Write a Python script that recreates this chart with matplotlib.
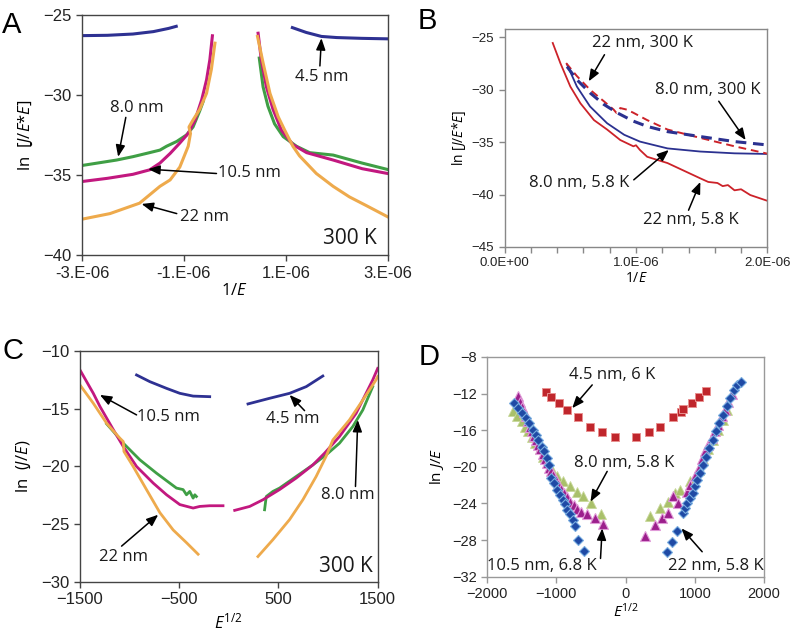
import numpy as np
import matplotlib
matplotlib.use("Agg")
import matplotlib.pyplot as plt

plt.rcParams["font.family"] = ["Open Sans", "DejaVu Sans"]
plt.rcParams["mathtext.fontset"] = "custom"
plt.rcParams["mathtext.rm"] = "Open Sans"
plt.rcParams["mathtext.it"] = "Open Sans:italic"

# ---------------- panel A : ln[J/E*E] vs 1/E (x in 1e-6) ----------------
a_navy_l_x = [-3.0, -2.5, -2.0, -1.6, -1.3, -1.15]
a_navy_l_y = [-26.3, -26.28, -26.2, -26.05, -25.85, -25.72]
a_navy_r_x = [1.13, 1.4, 1.7, 2.0, 2.5, 3.0]
a_navy_r_y = [-25.8, -26.1, -26.35, -26.42, -26.47, -26.5]

a_mag_l_x = [-3.0, -2.5, -2.0, -1.67, -1.47, -1.27, -1.08, -0.915, -0.78, -0.65, -0.555, -0.49, -0.44]
a_mag_l_y = [-35.4, -35.2, -34.95, -34.67, -34.25, -33.65, -33.0, -32.4, -31.56, -30.3, -29.06, -27.8, -26.31]
a_mag_r_x = [0.457, 0.52, 0.62, 0.75, 0.915, 1.14, 1.41, 1.93, 2.5, 3.0]
a_mag_r_y = [-26.15, -27.8, -29.5, -30.9, -32.2, -33.1, -33.6, -34.06, -34.6, -34.9]

a_grn_l_x = [-3.0, -2.6, -2.32, -2.0, -1.7, -1.47, -1.34, -1.14, -0.95, -0.82, -0.69, -0.62]
a_grn_l_y = [-34.4, -34.2, -34.06, -33.85, -33.62, -33.44, -33.2, -32.9, -32.5, -32.0, -31.0, -30.4]
a_grn_r_x = [0.48, 0.555, 0.65, 0.78, 0.95, 1.21, 1.47, 1.93, 2.5, 3.0]
a_grn_r_y = [-27.7, -29.5, -30.7, -31.8, -32.6, -33.2, -33.6, -33.75, -34.25, -34.65]

a_org_l_x = [-3.0, -2.45, -1.87, -1.47, -1.27, -1.08, -0.915, -0.87, -0.90, -0.82, -0.69, -0.555, -0.46, -0.39]
a_org_l_y = [-37.75, -37.4, -36.75, -35.7, -35.3, -34.5, -33.2, -32.4, -32.0, -31.56, -30.9, -29.9, -28.4, -26.77]
a_org_r_x = [0.445, 0.555, 0.69, 0.85, 0.98, 1.14, 1.27, 1.6, 1.93, 2.25, 2.58, 3.0]
a_org_r_y = [-26.35, -28.0, -29.9, -31.35, -32.2, -33.2, -33.8, -34.9, -35.7, -36.36, -36.9, -37.6]

# ---------------- panel B : ln[J/E*E] vs 1/E (x in 1e-6) ----------------
b_red_s_x = [0.366, 0.424, 0.50, 0.577, 0.68, 0.78, 0.88, 0.98, 1.0, 1.03, 1.085, 1.24, 1.49,
             1.55, 1.62, 1.66, 1.70, 1.75, 1.80, 1.87, 2.0]
b_red_s_y = [-25.54, -27.46, -29.7, -31.3, -32.9, -33.8, -34.8, -35.4, -35.3, -35.75, -36.4, -37.0, -38.46,
             -38.8, -38.9, -39.2, -39.1, -39.6, -39.5, -40.05, -40.6]
b_blu_s_x = [0.475, 0.55, 0.65, 0.78, 0.91, 1.03, 1.11, 1.24, 1.49, 1.75, 2.0]
b_blu_s_y = [-27.6, -29.7, -31.6, -33.2, -34.3, -34.95, -35.2, -35.6, -35.9, -36.07, -36.13]
b_red_d_x = [0.468, 0.55, 0.65, 0.755, 0.83, 0.85, 0.88, 0.93, 0.98, 1.085, 1.24, 1.49, 1.75, 2.0]
b_red_d_y = [-27.46, -28.7, -30.0, -31.1, -31.9, -32.2, -31.75, -31.9, -32.2, -32.9, -33.8, -34.6, -35.4, -36.1]
b_blu_d_x = [0.475, 0.55, 0.65, 0.755, 0.856, 0.98, 1.085, 1.24, 1.49, 1.75, 2.0]
b_blu_d_y = [-27.8, -29.05, -30.3, -31.4, -32.2, -33.0, -33.5, -34.0, -34.47, -34.95, -35.27]

# ---------------- panel C : ln(J/E) vs E^1/2 ----------------
c_navy_l_x = [-930, -796, -628, -494, -360, -193]
c_navy_l_y = [-12.07, -12.65, -13.23, -13.66, -13.9, -13.95]
c_navy_r_x = [193, 411, 612, 780, 947]
c_navy_r_y = [-14.58, -14.09, -13.66, -13.08, -12.16]

c_mag_l_x = [-1500, -1366, -1299, -1165, -1064, -930, -762, -628, -494, -360, -293, -193, -59]
c_mag_l_y = [-11.64, -13.66, -14.8, -16.8, -18.27, -20.0, -21.44, -22.45, -23.3, -23.6, -23.46, -23.4, -23.4]
c_mag_r_x = [59, 210, 344, 511, 679, 847, 964, 1115, 1282, 1450, 1500]
c_mag_r_y = [-23.8, -23.46, -22.88, -22.0, -21.0, -19.86, -18.85, -17.4, -15.4, -12.5, -11.5]

c_grn_l_x = [-1232, -1150, -1064, -897, -729, -595, -528, -461, -427, -394, -360, -343, -327]
c_grn_l_y = [-16.3, -17.1, -17.98, -19.42, -20.58, -21.44, -21.87, -22.0, -22.45, -22.16, -22.74, -22.45, -22.6]
c_grn_r_x = [360, 377, 444, 511, 679, 847, 981, 1115, 1249, 1350, 1450]
c_grn_r_y = [-23.75, -22.6, -22.16, -21.87, -20.86, -19.86, -18.99, -17.98, -16.54, -15.1, -13.08]

c_org_l_x = [-1500, -1366, -1232, -1098, -1064, -1057, -964, -830, -695, -561, -427, -310]
c_org_l_y = [-12.94, -14.52, -16.25, -17.55, -17.84, -18.7, -20.0, -22.0, -24.0, -25.5, -26.6, -27.6]
c_org_r_x = [293, 444, 612, 746, 880, 981, 1048, 1215, 1350, 1483, 1500]
c_org_r_y = [-27.8, -26.34, -24.6, -22.88, -20.86, -19.1, -17.7, -15.97, -14.24, -12.5, -12.2]

# ---------------- panel D : ln J/E vs E^1/2 (low T) ----------------
d_sq_x = [-1152, -1076, -960, -840, -690, -513, -335, -152,
          152, 339, 498, 681, 797, 835, 960, 1061, 1162]
d_sq_y = [-11.78, -12.36, -13.05, -13.8, -14.6, -15.6, -16.2, -16.7,
          -16.7, -16.15, -15.6, -14.6, -13.97, -13.7, -13.05, -12.4, -11.7]

d_mag_x = [-1560, -1530, -1500, -1470, -1440, -1410, -1380, -1350, -1320, -1290, -1260, -1230, -1200,
           -1170, -1140, -1110, -1080, -1050, -1010, -970, -930, -890, -840, -800, -750, -700, -650,
           -560, -440, -320,
           282, 426, 522, 618, 690, 762, 884, 931, 1004, 1052, 1100, 1148, 1196, 1244, 1292, 1340,
           1388, 1437, 1485, 1534]
d_mag_y = [-12.3, -12.9, -13.5, -14.0, -14.5, -15.0, -15.6, -16.1, -16.6, -17.1, -17.6, -18.1, -18.6,
           -19.1, -19.6, -20.1, -20.5, -20.9, -21.4, -21.9, -22.4, -22.9, -23.3, -23.8, -24.2, -24.6, -24.9,
           -25.2, -25.6, -26.2,
           -27.5, -26.4, -25.6, -25.0, -23.2, -24.0, -22.7, -22.0, -21.05, -20.1, -19.2, -18.3, -17.6,
           -16.9, -16.1, -15.4, -14.5, -13.8, -12.9, -12.0]

d_olv_x = [-1620, -1571, -1499, -1451, -1403, -1354, -1307, -1235, -1187, -1115, -1066, -994, -898,
           -801, -705, -609, -498, -358,
           354, 489, 609, 715, 787, 931, 1052, 1124, 1196, 1268, 1340, 1412, 1470]
d_olv_y = [-13.96, -14.5, -15.05, -15.6, -16.1, -16.7, -17.4, -18.1, -18.9, -19.6, -20.3, -21.0, -21.6,
           -22.1, -22.7, -23.2, -24.0, -25.2,
           -25.4, -24.5, -23.8, -22.9, -22.5, -21.6, -20.3, -19.2, -18.1, -17.05, -15.96, -14.9, -13.8]

d_dia_x = [-1610, -1548, -1499, -1437, -1389, -1340, -1292, -1259, -1210, -1172, -1138, -1100, -1076,
           -1032, -994, -946, -907, -874, -840, -801, -763, -729, -682, -599,
           604, 667, 739, 826, 859, 893, 931, 970, 1004, 1037, 1076, 1124, 1162, 1210, 1259, 1307,
           1355, 1403, 1461, 1509, 1567, 1615, 1664]
d_dia_y = [-13.05, -13.6, -14.14, -14.7, -15.2, -15.96, -16.5, -17.05, -17.8, -18.3, -19.05, -19.8, -21.2,
           -21.8, -22.5, -23.05, -23.6, -24.1, -24.7, -25.2, -25.8, -26.5, -28.0, -29.2,
           -29.3, -28.2, -27.0, -25.0, -24.5, -23.9, -23.4, -22.9, -22.1, -21.4, -20.7, -19.8, -18.9,
           -17.96, -17.05, -16.1, -15.2, -14.3, -13.4, -12.5, -11.6, -11.05, -10.7]

NAVY = "#2e3192"
MAGENTA = "#c2187f"
GREEN = "#3f9f45"
ORANGE = "#eeaa4c"
RED = "#cc2229"
BLUE = "#2b3190"

TICK_FONT = "Liberation Sans"


def style_axes(ax, spine_color, tick_size):
    for s in ax.spines.values():
        s.set_color(spine_color)
        s.set_linewidth(1.0)
    ax.tick_params(direction="out", length=4, width=1, color=spine_color,
                   labelsize=tick_size, labelcolor="#222222")
    for lab in ax.get_xticklabels() + ax.get_yticklabels():
        lab.set_family(TICK_FONT)


def arrow(ax, tail, tip):
    ax.annotate("", xy=tip, xytext=tail,
                arrowprops=dict(arrowstyle="-|>,head_length=0.7,head_width=0.28",
                                color="black", lw=1.1, shrinkA=0, shrinkB=0))


def label(ax, xy, text, size=12):
    ax.text(xy[0], xy[1], text, ha="center", va="center", fontsize=size, color="#1a1a1a")


fig = plt.figure(figsize=(7.96, 6.43), dpi=100)

# ---------- A ----------
ax = fig.add_axes([0.103, 0.603, 0.384, 0.374])
s = 1e-6
ax.plot(np.array(a_navy_l_x) * s, a_navy_l_y, color=NAVY, lw=2.2)
ax.plot(np.array(a_navy_r_x) * s, a_navy_r_y, color=NAVY, lw=2.2)
ax.plot(np.array(a_grn_l_x) * s, a_grn_l_y, color=GREEN, lw=2.2)
ax.plot(np.array(a_grn_r_x) * s, a_grn_r_y, color=GREEN, lw=2.2)
ax.plot(np.array(a_mag_l_x) * s, a_mag_l_y, color=MAGENTA, lw=2.2)
ax.plot(np.array(a_mag_r_x) * s, a_mag_r_y, color=MAGENTA, lw=2.2)
ax.plot(np.array(a_org_l_x) * s, a_org_l_y, color=ORANGE, lw=2.2)
ax.plot(np.array(a_org_r_x) * s, a_org_r_y, color=ORANGE, lw=2.2)
ax.set_xlim(-3e-6, 3e-6)
ax.set_ylim(-40, -25)
ax.set_xticks([-3e-6, -1e-6, 1e-6, 3e-6])
ax.set_xticklabels(["-3.E-06", "-1.E-06", "1.E-06", "3.E-06"])
ax.set_yticks([-40, -35, -30, -25])
style_axes(ax, "#444444", 12)
ax.set_xlabel("1/$\\mathit{E}$", fontsize=12, labelpad=2)
ax.set_ylabel("ln  [$\\mathit{J/E}$*$\\mathit{E}$]", fontsize=12, labelpad=6)
arrow(ax, (1.67e-6, -28.19), (1.70e-6, -26.46))
label(ax, (1.71e-6, -28.9), "4.5 nm")
arrow(ax, (-2.14e-6, -31.4), (-2.29e-6, -33.86))
label(ax, (-1.93e-6, -30.83), "8.0 nm")
arrow(ax, (-0.36e-6, -34.9), (-1.70e-6, -34.63))
label(ax, (0.29e-6, -34.86), "10.5 nm")
arrow(ax, (-1.14e-6, -37.4), (-1.83e-6, -36.8))
label(ax, (-0.59e-6, -37.6), "22 nm")
label(ax, (2.25e-6, -38.96), "300 K", size=15)

# ---------- B ----------
ax = fig.add_axes([0.634, 0.616, 0.330, 0.339])
ax.plot(np.array(b_red_s_x) * s, b_red_s_y, color=RED, lw=1.3)
ax.plot(np.array(b_blu_s_x) * s, b_blu_s_y, color=BLUE, lw=1.3)
ax.plot(np.array(b_red_d_x) * s, b_red_d_y, color=RED, lw=1.4, dashes=(4, 2.5))
ax.plot(np.array(b_blu_d_x) * s, b_blu_d_y, color=BLUE, lw=2.2, dashes=(3.5, 2.2))
ax.set_xlim(0, 2e-6)
ax.set_ylim(-45, -24.2)
ax.set_xticks([0, 1e-6, 2e-6])
ax.set_xticklabels(["0.0E+00", "1.0E-06", "2.0E-06"])
ax.set_xticks(np.arange(0, 2.01e-6, 0.2e-6), minor=True)
ax.set_yticks([-45, -40, -35, -30, -25])
style_axes(ax, "#888888", 9.5)
ax.tick_params(which="minor", direction="out", length=4, width=1, color="#888888")
ax.set_xlabel("1/$\\mathit{E}$", fontsize=10, labelpad=1)
ax.set_ylabel("ln [$\\mathit{J/E}$*$\\mathit{E}$]", fontsize=10, labelpad=3)
arrow(ax, (0.76e-6, -26.66), (0.64e-6, -29.2))
label(ax, (1.047e-6, -25.54), "22 nm, 300 K")
arrow(ax, (1.63e-6, -31.1), (1.835e-6, -34.8))
label(ax, (1.543e-6, -30.0), "8.0 nm, 300 K")
arrow(ax, (0.983e-6, -38.6), (1.25e-6, -35.75))
label(ax, (0.564e-6, -38.94), "8.0 nm, 5.8 K")
arrow(ax, (1.40e-6, -41.5), (1.49e-6, -38.8))
label(ax, (1.415e-6, -42.45), "22 nm, 5.8 K")

# ---------- C ----------
ax = fig.add_axes([0.1005, 0.095, 0.374, 0.359])
ax.plot(c_navy_l_x, c_navy_l_y, color=NAVY, lw=2.0)
ax.plot(c_navy_r_x, c_navy_r_y, color=NAVY, lw=2.0)
ax.plot(c_grn_l_x, c_grn_l_y, color=GREEN, lw=2.0)
ax.plot(c_grn_r_x, c_grn_r_y, color=GREEN, lw=2.0)
ax.plot(c_mag_l_x, c_mag_l_y, color=MAGENTA, lw=2.0)
ax.plot(c_mag_r_x, c_mag_r_y, color=MAGENTA, lw=2.0)
ax.plot(c_org_l_x, c_org_l_y, color=ORANGE, lw=2.0)
ax.plot(c_org_r_x, c_org_r_y, color=ORANGE, lw=2.0)
ax.set_xlim(-1500, 1500)
ax.set_ylim(-30, -10)
ax.set_xticks([-1500, -500, 500, 1500])
ax.set_yticks([-30, -25, -20, -15, -10])
style_axes(ax, "#444444", 12)
ax.set_xlabel("$\\mathit{E}^{\\mathrm{1/2}}$", fontsize=12, labelpad=4)
ax.set_ylabel("ln  ($\\mathit{J/E}$)", fontsize=12, labelpad=6)
arrow(ax, (-930, -15.53), (-1299, -13.8))
label(ax, (-612, -15.73), "10.5 nm")
arrow(ax, (763, -15.16), (612, -13.8))
label(ax, (645, -15.9), "4.5 nm")
arrow(ax, (1276, -21.73), (1299, -15.97))
label(ax, (1199, -22.5), "8.0 nm")
arrow(ax, (-1081, -26.9), (-712, -24.18))
label(ax, (-1064, -27.84), "22 nm")
label(ax, (1182, -28.65), "300 K", size=15)

# ---------- D ----------
ax = fig.add_axes([0.612, 0.103, 0.348, 0.342])
ax.plot(d_olv_x, d_olv_y, "^", ms=7, mfc="#a9c06a", mec="#c8d89a", mew=0.6, ls="none")
ax.plot(d_mag_x, d_mag_y, "^", ms=6.5, mfc="#9c1f8c", mec="#e09ad8", mew=0.8, ls="none")
ax.plot(d_dia_x, d_dia_y, "D", ms=4.8, mfc="#1f4aa5", mec="#79aee0", mew=0.8, ls="none")
ax.plot(d_sq_x, d_sq_y, "s", ms=5.2, mfc="#c0262c", mec="#e89090", mew=0.7, ls="none")
ax.set_xlim(-2000, 2000)
ax.set_ylim(-32, -8)
ax.set_xticks([-2000, -1000, 0, 1000, 2000])
ax.set_yticks([-32, -28, -24, -20, -16, -12, -8])
style_axes(ax, "#999999", 10.5)
ax.set_xlabel("$\\mathit{E}^{\\mathrm{1/2}}$", fontsize=11, labelpad=1)
ax.set_ylabel("ln $\\mathit{J/E}$", fontsize=11, labelpad=4)
arrow(ax, (-483, -11.06), (-772, -13.6))
label(ax, (-195, -9.97), "4.5 nm, 6 K")
arrow(ax, (-267, -20.5), (-507, -23.8))
label(ax, (-26, -19.6), "8.0 nm, 5.8 K")
arrow(ax, (-363, -30.0), (-339, -26.72))
label(ax, (-1206, -30.83), "10.5 nm, 6.8 K")
arrow(ax, (1105, -29.27), (807, -26.72))
label(ax, (1298, -30.83), "22 nm, 5.8 K")

# panel letters
for x, y, t in [(12, 25, "A"), (427, 21, "B"), (13, 351, "C"), (429, 357, "D")]:
    fig.text(x / 796, 1 - y / 643, t, fontsize=21, family="Liberation Sans",
             ha="center", va="center")

fig.savefig("out.png", dpi=100)
